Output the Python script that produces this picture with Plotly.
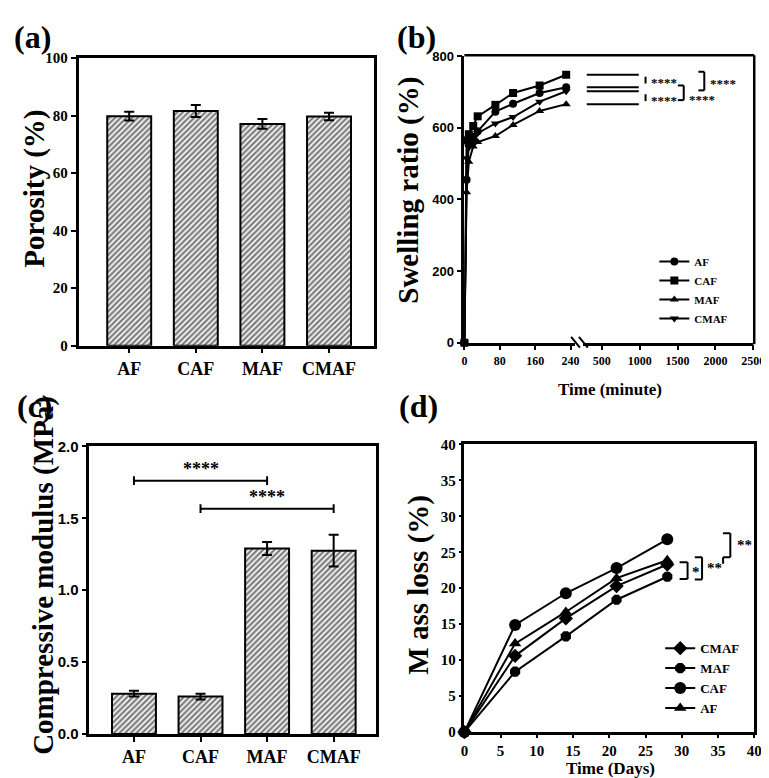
import plotly.graph_objects as go

W, H = 769, 778
SERIF = "Liberation Serif"
SANS = "Liberation Sans"

# (a) porosity and (c) compressive modulus
materials = ["AF", "CAF", "MAF", "CMAF"]
porosity = [79.8, 81.6, 77.1, 79.7]
porosity_err = [1.5, 2.1, 1.7, 1.3]
modulus = [0.28, 0.26, 1.29, 1.275]
modulus_err = [0.02, 0.02, 0.045, 0.11]

# (b) swelling ratio (%) vs time (minute)
swell_time = [0, 5, 10, 20, 30, 70, 110, 170, 230]
swell_af = [0, 455, 555, 575, 590, 645, 667, 697, 713]
swell_caf = [0, 565, 582, 605, 632, 664, 697, 718, 748]
swell_maf = [0, 420, 505, 548, 560, 577, 608, 647, 666]
swell_cmaf = [0, 515, 545, 565, 585, 612, 630, 673, 702]
time_ticks_1 = [0, 80, 160, 240]
time_ticks_2 = [500, 1000, 1500, 2000, 2500]

# (d) mass loss (%) vs time (days)
days = [0, 7, 14, 21, 28]
loss_cmaf = [0, 10.6, 15.8, 20.3, 23.3]
loss_maf = [0, 8.4, 13.3, 18.4, 21.6]
loss_caf = [0, 14.9, 19.3, 22.8, 26.8]
loss_af = [0, 12.3, 16.7, 21.4, 23.9]


def px(x):
    return x / W


def py(y):
    return 1 - y / H


def font(size, family=SERIF):
    return dict(family=family, size=size, color="black", weight="bold")


def axis(**kw):
    base = dict(showline=True, linewidth=2.5, linecolor="black", ticks="outside",
                tickwidth=2, ticklen=5, tickcolor="black", showgrid=False,
                zeroline=False, mirror=True)
    base.update(kw)
    return base


bar_marker = dict(color="white", line=dict(color="black", width=2),
                  pattern=dict(shape="/", fgcolor="black", bgcolor="white",
                               size=4, solidity=0.6))

fig = go.Figure()

# (a)
fig.add_trace(go.Bar(
    x=materials, y=porosity, width=0.66, marker=bar_marker,
    error_y=dict(type="data", array=porosity_err, color="black", thickness=2, width=5),
    xaxis="x", yaxis="y", showlegend=False))

# (c)
fig.add_trace(go.Bar(
    x=materials, y=modulus, width=0.66, marker=bar_marker,
    error_y=dict(type="data", array=modulus_err, color="black", thickness=2, width=5),
    xaxis="x4", yaxis="y3", showlegend=False))

# (b)
for name, vals, sym in [("AF", swell_af, "circle"), ("CAF", swell_caf, "square"),
                        ("MAF", swell_maf, "triangle-up"), ("CMAF", swell_cmaf, "triangle-down")]:
    fig.add_trace(go.Scatter(
        x=swell_time, y=vals, name=name, mode="lines+markers",
        marker=dict(symbol=sym, size=8, color="black"),
        line=dict(color="black", width=2),
        xaxis="x2", yaxis="y2", legend="legend", cliponaxis=False))
# empty trace so the second (broken) time axis is drawn
fig.add_trace(go.Scatter(x=[], y=[], xaxis="x3", yaxis="y2", showlegend=False, hoverinfo="skip"))

# (d)
for name, vals, sym, size in [("CMAF", loss_cmaf, "diamond", 11), ("MAF", loss_maf, "octagon", 11),
                              ("CAF", loss_caf, "circle", 12), ("AF", loss_af, "triangle-up", 11)]:
    fig.add_trace(go.Scatter(
        x=days, y=vals, name=name, mode="lines+markers",
        marker=dict(symbol=sym, size=size, color="black"),
        line=dict(color="black", width=2),
        xaxis="x5", yaxis="y4", legend="legend2", cliponaxis=False))

shapes = []
annotations = []


def line_px(x0, y0, x1, y1, w=2):
    shapes.append(dict(type="line", xref="paper", yref="paper",
                       x0=px(x0), y0=py(y0), x1=px(x1), y1=py(y1),
                       line=dict(color="black", width=w)))


def text_px(x, y, text, size, family=SERIF, xanchor="center", yanchor="middle", **kw):
    annotations.append(dict(xref="paper", yref="paper", x=px(x), y=py(y), text=text,
                            showarrow=False, font=font(size, family),
                            xanchor=xanchor, yanchor=yanchor, **kw))


# frame of (b): top and right edges, axis break marks
line_px(462, 39, 758, 39, 2.5)
line_px(758, 39, 758, 334.5, 2.5)
line_px(571, 327, 580, 338, 2)
line_px(579, 327, 588, 338, 2)

# (b) significance lines at final values
for v in [swell_caf[-1], swell_af[-1], swell_cmaf[-1], swell_maf[-1]]:
    shapes.append(dict(type="line", xref="x3 domain", yref="y2", x0=0.023, x1=0.328,
                       y0=v, y1=v, line=dict(color="black", width=2)))
line_px(647, 61, 647, 68)
line_px(647, 79, 647, 86)
text_px(666, 67, "****", 13)
text_px(666, 85, "****", 13)
for xl, xr, yt, yb in [(680, 686, 70, 85), (701, 707, 56, 75)]:
    line_px(xl, yt, xr, yt)
    line_px(xr, yt, xr, yb)
    line_px(xl, yb, xr, yb)
text_px(705, 84, "****", 13)
text_px(726, 68, "****", 13)

# (c) significance brackets
for a, b, y, ty in [("AF", "MAF", 1.762, 1.84), ("CAF", "CMAF", 1.567, 1.645)]:
    i0, i1 = materials.index(a), materials.index(b)
    shapes.append(dict(type="line", xref="x4", yref="y3", x0=i0, x1=i1, y0=y, y1=y,
                       line=dict(color="black", width=2)))
    for i in (i0, i1):
        shapes.append(dict(type="line", xref="x4", yref="y3", x0=i, x1=i, y0=y - 0.03, y1=y + 0.03,
                           line=dict(color="black", width=2)))
    annotations.append(dict(xref="x4", yref="y3", x=(i0 + i1) / 2, y=ty, text="****",
                            showarrow=False, font=font(18)))


# (d) significance brackets
def bracket_d(xl, xr, yb, yt):
    for x0, y0, x1, y1 in [(xl, yt, xr, yt), (xr, yt, xr, yb), (xl, yb, xr, yb)]:
        shapes.append(dict(type="line", xref="x5", yref="y4", x0=x0, y0=y0, x1=x1, y1=y1,
                           line=dict(color="black", width=2)))


bracket_d(29.7, 30.8, loss_maf[-1] - 0.3, loss_cmaf[-1] + 0.3)
bracket_d(31.8, 32.8, loss_maf[-1] - 0.4, loss_af[-1] + 0.4)
bracket_d(35.7, 36.7, loss_af[-1] + 0.4, loss_caf[-1] + 0.85)
shapes.append(dict(type="line", xref="x5", yref="y4", x0=35.7, x1=35.7,
                   y0=loss_af[-1] + 0.4, y1=loss_af[-1] - 0.5, line=dict(color="black", width=2)))
for x, y, t in [(31.9, 22.3, "*"), (34.5, 22.8, "**"), (38.6, 26.0, "**")]:
    annotations.append(dict(xref="x5", yref="y4", x=x, y=y, text=t, showarrow=False,
                            font=font(15), xanchor="center"))

# titles and panel labels
text_px(23, 176, "Porosity (%)", 29, textangle=-90)
text_px(405, 177, "Swelling ratio (%)", 29, textangle=-90)
text_px(32, 571, "Compressive modulus (MPa)", 29, textangle=-90)
text_px(415, 580, "M ass loss (%)", 29, textangle=-90)
text_px(611, 381, "Time (minute)", 17)
text_px(611, 768, "Time (Days)", 17)
for x, y, t in [(0, 0, "(a)"), (391, 0, "(b)"), (3, 377, "(c)"), (393, 377, "(d)")]:
    text_px(x, y, t, 32, xanchor="left", yanchor="top")

fig.update_layout(
    width=W, height=H, margin=dict(l=0, r=0, t=0, b=0),
    paper_bgcolor="white", plot_bgcolor="white",
    xaxis=axis(domain=[px(68), px(370)], anchor="y", range=[-0.76, 3.68], tickfont=font(18)),
    yaxis=axis(domain=[py(336), py(42)], anchor="x", range=[0, 100], dtick=20, tickfont=font(15)),
    xaxis2=axis(domain=[px(462), px(575)], anchor="y2", range=[0, 250], tickvals=time_ticks_1,
                tickfont=font(12), mirror=False),
    xaxis3=axis(domain=[px(583), px(757)], anchor="y2", range=[250, 2500], tickvals=time_ticks_2,
                tickfont=font(12), mirror=False),
    yaxis2=axis(domain=[py(333), py(40)], anchor="x2", range=[0, 800], dtick=200,
                tickfont=font(13, SANS), mirror=False),
    xaxis4=axis(domain=[px(79), px(372)], anchor="y3", range=[-0.67, 3.64], tickfont=font(18)),
    yaxis3=axis(domain=[py(733), py(439)], anchor="x4", range=[0, 2], dtick=0.5, tickformat=".1f",
                tickfont=font(15, SANS)),
    xaxis5=axis(domain=[px(462), px(758)], anchor="y4", range=[0, 40], dtick=5, ticklen=3,
                tickfont=font(15)),
    yaxis4=axis(domain=[py(731), py(437)], anchor="x5", range=[0, 40], dtick=5, ticklen=3,
                tickfont=font(15)),
    legend=dict(x=px(656), y=py(279), xanchor="left", yanchor="middle", font=font(11),
                bgcolor="rgba(0,0,0,0)", tracegroupgap=0),
    legend2=dict(x=px(662), y=py(676), xanchor="left", yanchor="middle", font=font(13),
                 bgcolor="rgba(0,0,0,0)", tracegroupgap=0),
    shapes=shapes,
    annotations=annotations,
)

fig.write_html("out.html")
